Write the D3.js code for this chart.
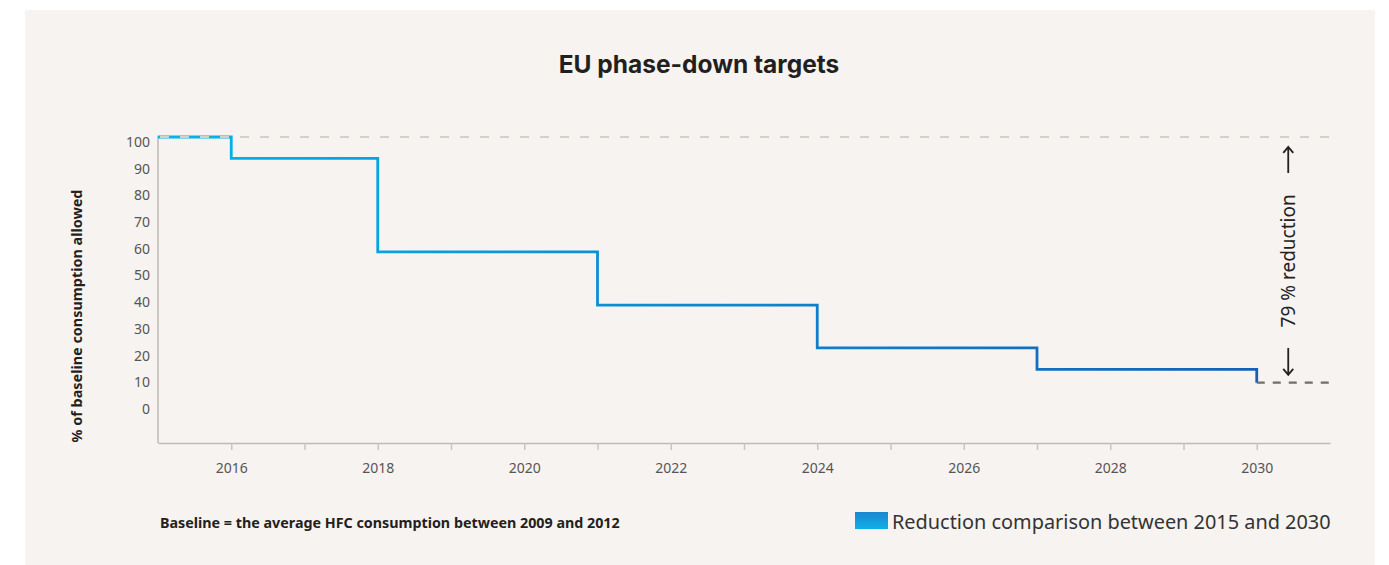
<!DOCTYPE html>
<html>
<head>
<meta charset="utf-8">
<script src="https://cdn.jsdelivr.net/npm/d3@7"></script>
<style>
  html, body { margin: 0; padding: 0; background: #fff; }
  svg { display: block; }
</style>
</head>
<body>
<div id="chart"></div>
<script>
// step values (% of baseline) from each year on
var years = [2015, 2016, 2018, 2021, 2024, 2027, 2030];
var allowed = [100, 92, 57, 37, 21, 13, 8];
var yTicks = [0, 10, 20, 30, 40, 50, 60, 70, 80, 90, 100];
var xTicks = d3.range(2016, 2031);
var xLabels = [2016, 2018, 2020, 2022, 2024, 2026, 2028, 2030];

var width = 1389, height = 565;

var svg = d3.select("#chart").append("svg")
    .attr("width", width)
    .attr("height", height);

var defs = svg.append("defs");
var grad = defs.append("linearGradient")
    .attr("id", "lineGrad")
    .attr("gradientUnits", "userSpaceOnUse")
    .attr("x1", 158).attr("x2", 1256).attr("y1", 0).attr("y2", 0);
grad.append("stop").attr("offset", "0%").attr("stop-color", "#00b6ec");
grad.append("stop").attr("offset", "45%").attr("stop-color", "#0d8bd2");
grad.append("stop").attr("offset", "100%").attr("stop-color", "#1560b6");

var swatchGrad = defs.append("linearGradient")
    .attr("id", "swatchGrad")
    .attr("x1", 0).attr("x2", 0).attr("y1", 0).attr("y2", 1);
swatchGrad.append("stop").attr("offset", "0%").attr("stop-color", "#1c86d0");
swatchGrad.append("stop").attr("offset", "100%").attr("stop-color", "#10b0e8");

// card background
svg.append("rect")
    .attr("x", 25).attr("y", 10)
    .attr("width", 1350).attr("height", 555)
    .attr("fill", "#f7f3f0");

svg.append("text")
    .attr("x", 699).attr("y", 73)
    .attr("text-anchor", "middle")
    .style("font-family", "Inter, 'Noto Sans', sans-serif")
    .style("font-weight", 700)
    .style("font-size", "24.5px")
    .style("fill", "#231f20")
    .text("EU phase-down targets");

var x = d3.scaleLinear().domain([2015, 2031]).range([158, 1330]);
var y = d3.scaleLinear().domain([-14.6, 100]).range([443, 137]);

// y axis
svg.append("line")
    .attr("x1", 158).attr("x2", 158)
    .attr("y1", y(-14.6)).attr("y2", y(100.5))
    .attr("stroke", "#bdbab6").attr("stroke-width", 1.5);

var yAxis = svg.append("g")
    .attr("transform", "translate(158,0)")
    .call(d3.axisLeft(y).tickValues(yTicks).tickSize(0).tickPadding(8));
yAxis.select(".domain").remove();
yAxis.selectAll("text")
    .attr("dy", "0.32em")
    .attr("transform", "translate(0,5)")
    .style("font-family", "'Noto Sans', sans-serif")
    .style("font-size", "14px")
    .style("fill", "#555");

// x axis
var xAxis = svg.append("g")
    .attr("transform", "translate(0," + y(-14.6) + ")")
    .call(d3.axisBottom(x).tickValues(xTicks).tickSize(7).tickSizeOuter(0).tickPadding(13)
        .tickFormat(function (d) { return xLabels.indexOf(d) >= 0 ? d : ""; }));
xAxis.select(".domain").attr("stroke", "#bdbab6").attr("stroke-width", 1.5);
xAxis.selectAll(".tick line").attr("stroke", "#c8c5c1").attr("stroke-width", 1.5);
xAxis.selectAll("text")
    .style("font-family", "'Noto Sans', sans-serif")
    .style("font-size", "14px")
    .style("fill", "#555");

svg.append("text")
    .attr("transform", "translate(76,316)rotate(-90)")
    .attr("text-anchor", "middle")
    .attr("dominant-baseline", "central")
    .style("font-family", "'Noto Sans', sans-serif")
    .style("font-weight", 700)
    .style("font-size", "14.4px")
    .style("fill", "#231f20")
    .text("% of baseline consumption allowed");

// step line
var stepData = years.map(function (d, i) { return { year: d, value: allowed[i] }; });
var line = d3.line()
    .x(function (d) { return x(d.year); })
    .y(function (d) { return y(d.value); })
    .curve(d3.curveStepAfter);

svg.append("path")
    .datum(stepData)
    .attr("d", line)
    .attr("fill", "none")
    .attr("stroke", "url(#lineGrad)")
    .attr("stroke-width", 2.8);

// baseline 100% dashed
svg.append("line")
    .attr("x1", x(2015)).attr("x2", x(2031))
    .attr("y1", y(100)).attr("y2", y(100))
    .attr("stroke", "#d3cfc9").attr("stroke-width", 2.2)
    .attr("stroke-dasharray", "9,11")
    .attr("stroke-dashoffset", -2);

// 2030 target dashed
var last = allowed[allowed.length - 1];
svg.append("line")
    .attr("x1", x(2030)).attr("x2", x(2031))
    .attr("y1", y(last)).attr("y2", y(last))
    .attr("stroke", "#6f6f6f").attr("stroke-width", 2.2)
    .attr("stroke-dasharray", "8,8");

// reduction annotation
var ax = x(2030.43);
function arrow(from, to) {
    var dir = to > from ? 1 : -1;
    svg.append("path")
        .attr("d", "M" + ax + "," + from + "V" + to +
            "M" + (ax - 5) + "," + (to - dir * 6) + "L" + ax + "," + to + "L" + (ax + 5) + "," + (to - dir * 6))
        .attr("fill", "none")
        .attr("stroke", "#222")
        .attr("stroke-width", 1.8);
}
arrow(y(86.5), y(96.3));
arrow(y(21), y(10.9));

svg.append("text")
    .attr("transform", "translate(" + ax + "," + y(53.6) + ")rotate(-90)")
    .attr("text-anchor", "middle")
    .attr("dominant-baseline", "central")
    .style("font-family", "'Noto Sans', sans-serif")
    .style("font-size", "19px")
    .style("fill", "#222")
    .text("79 % reduction");

// footnote
svg.append("text")
    .attr("x", 160).attr("y", 528)
    .style("font-family", "'Noto Sans', sans-serif")
    .style("font-weight", 700)
    .style("font-size", "14.3px")
    .style("fill", "#231f20")
    .text("Baseline = the average HFC consumption between 2009 and 2012");

// legend
svg.append("rect")
    .attr("x", 855).attr("y", 512)
    .attr("width", 33).attr("height", 17)
    .attr("fill", "url(#swatchGrad)");
svg.append("text")
    .attr("x", 892).attr("y", 529)
    .style("font-family", "'Noto Sans', sans-serif")
    .style("font-size", "19.9px")
    .style("fill", "#333")
    .text("Reduction comparison between 2015 and 2030");
</script>
</body>
</html>
